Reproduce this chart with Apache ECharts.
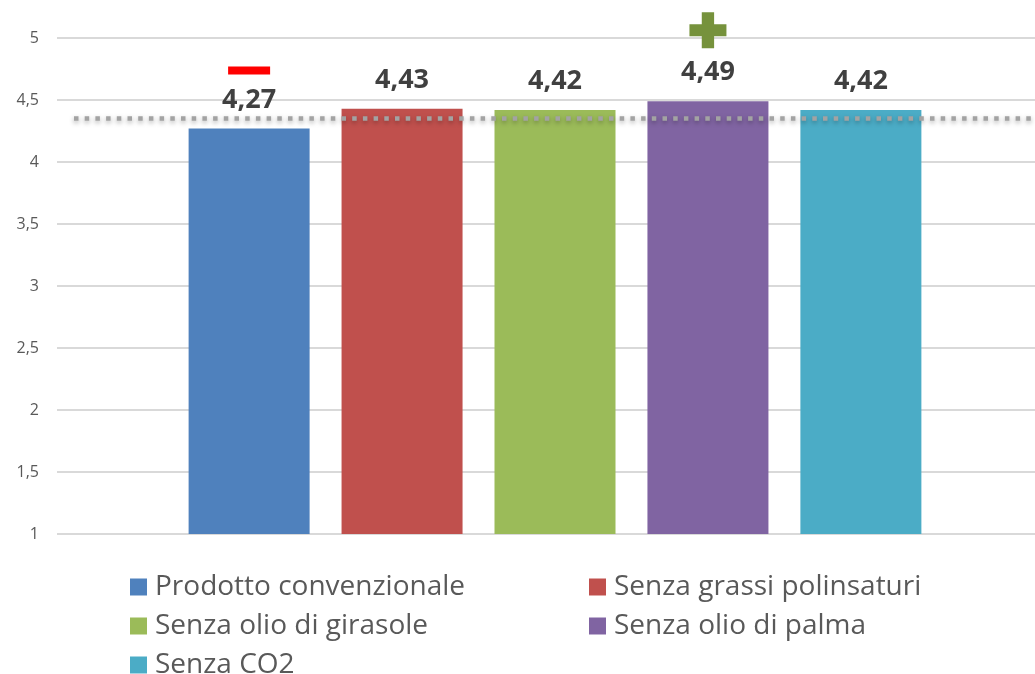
<!DOCTYPE html>
<html>
<head>
<meta charset="utf-8">
<script src="https://cdn.jsdelivr.net/npm/echarts@6/dist/echarts.min.js"></script>
<style>
  html, body { margin: 0; padding: 0; background: #ffffff; }
  #chart { width: 1035px; height: 674px; }
</style>
</head>
<body>
<div id="chart"></div>
<script>
// Donnees
const seriesNames = [
  "Prodotto convenzionale",
  "Senza grassi polinsaturi",
  "Senza olio di girasole",
  "Senza olio di palma",
  "Senza CO2"
];
const seriesValues = [4.27, 4.43, 4.42, 4.49, 4.42];
const seriesColors = ["#4f81bd", "#c0504d", "#9bbb59", "#8064a2", "#4bacc6"];
const referenceLevel = [4.35];
const yTicks = { min: 1, max: 5, interval: 0.5 };
const category = [""];

const FONT = "'Open Sans', 'DejaVu Sans', sans-serif";
const fmt = (v) => String(v).replace(".", ",");

const chart = echarts.init(document.getElementById("chart"));

const bars = seriesNames.map((name, i) => {
  const s = {
    name,
    type: "bar",
    barWidth: 121,
    barGap: "26.4%",
    data: [seriesValues[i]],
    itemStyle: { color: seriesColors[i] },
    label: {
      show: true,
      position: "top",
      distance: 15,
      fontFamily: FONT,
      fontSize: 27,
      fontWeight: "bold",
      color: "#404040",
      formatter: (p) => fmt(p.value)
    }
  };
  if (i === 0) {
    // trait rouge "moins" au-dessus de la premiere barre
    s.markPoint = {
      silent: true,
      label: { show: false },
      data: [{
        coord: [0, seriesValues[i]],
        symbol: "rect",
        symbolSize: [42, 8],
        symbolOffset: [0, -58],
        itemStyle: { color: "#ff0000" }
      }]
    };
  }
  if (i === 3) {
    // croix verte "plus"
    s.markPoint = {
      silent: true,
      label: { show: false },
      data: [{
        coord: [0, seriesValues[i]],
        symbol: "path://M5,0h5v5h5v5h-5v5h-5v-5h-5v-5h5z",
        symbolSize: [37, 36],
        symbolOffset: [0, -71],
        itemStyle: { color: "#76923c" }
      }]
    };
  }
  return s;
});

// ligne pointillee de reference
const refLine = {
  name: "ref",
  type: "line",
  data: [],
  z: 10,
  markLine: {
    silent: true,
    symbol: ["none", "none"],
    label: { show: false },
    lineStyle: {
      color: "#a3a3a3",
      width: 4.5,
      type: [4.5, 6.2],
      cap: "butt",
      shadowColor: "rgba(0,0,0,0.35)",
      shadowBlur: 5,
      shadowOffsetY: 2
    },
    data: [[{ x: 74, yAxis: referenceLevel[0] }, { x: "100%", yAxis: referenceLevel[0] }]]
  }
};

const legendBase = {
  orient: "vertical",
  icon: "rect",
  itemWidth: 17,
  itemHeight: 17,
  itemGap: 11,
  height: 130,
  selectedMode: false,
  textStyle: { fontFamily: FONT, fontSize: 28, color: "#595959", lineHeight: 28, padding: [0, 0, 0, 3] }
};

chart.setOption({
  animation: false,
  color: seriesColors,
  grid: { left: 57, right: -18, top: 38, bottom: 140, outerBoundsMode: "none" },
  legend: [
    Object.assign({}, legendBase, { left: 125, top: 568, data: [seriesNames[0], seriesNames[2], seriesNames[4]] }),
    Object.assign({}, legendBase, { left: 584, top: 568, data: [seriesNames[1], seriesNames[3]] })
  ],
  xAxis: {
    type: "category",
    data: category,
    axisLine: { show: false },
    axisTick: { show: false },
    axisLabel: { show: false }
  },
  yAxis: {
    type: "value",
    min: yTicks.min,
    max: yTicks.max,
    interval: yTicks.interval,
    axisLine: { show: false },
    axisTick: { show: false },
    axisLabel: {
      margin: 18,
      fontFamily: FONT,
      fontSize: 16,
      color: "#595959",
      formatter: (v) => fmt(v)
    },
    splitLine: { lineStyle: { color: "#d9d9d9", width: 2 } }
  },
  series: bars.concat([refLine])
});
</script>
</body>
</html>
